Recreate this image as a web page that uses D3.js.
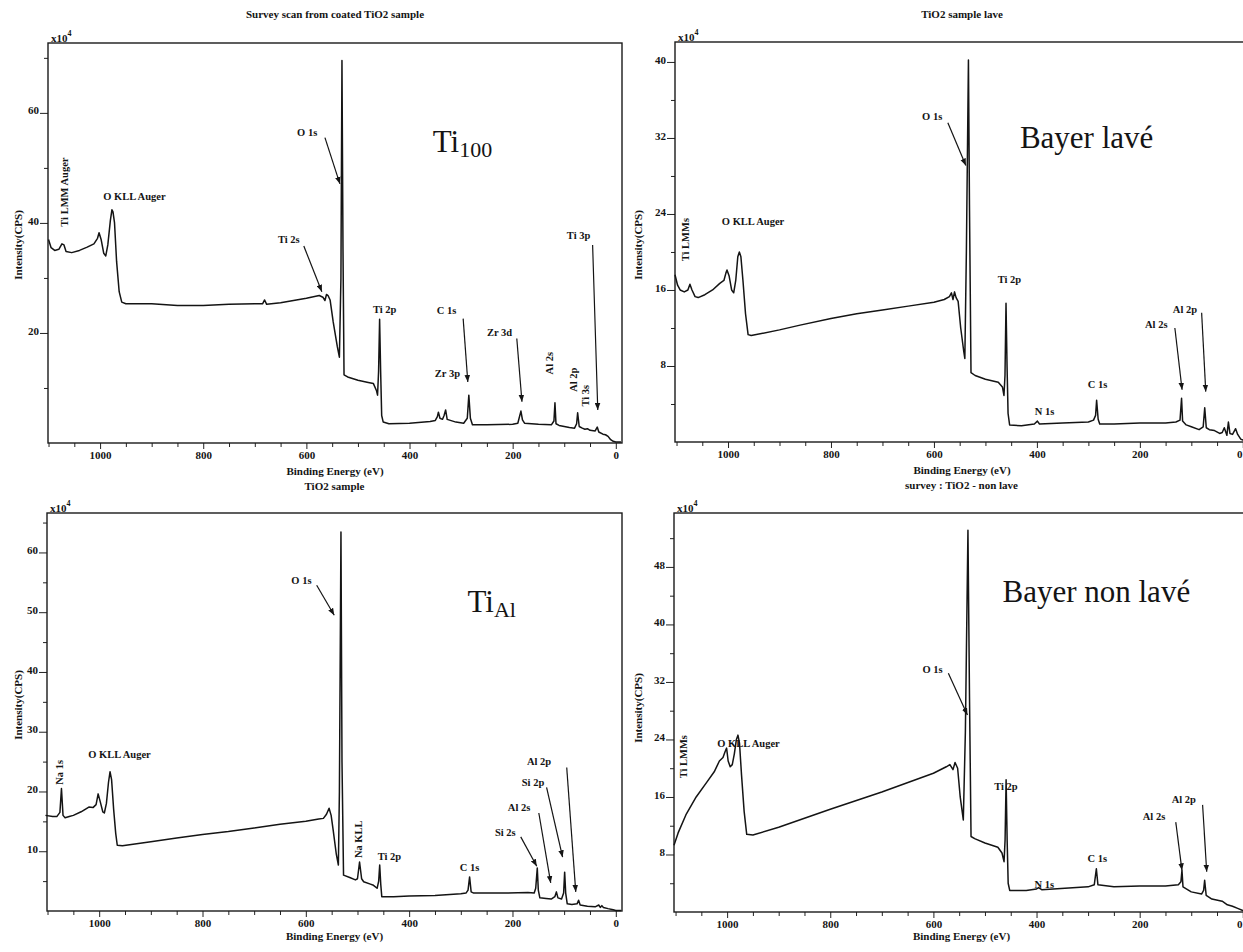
<!DOCTYPE html>
<html>
<head>
<meta charset="utf-8">
<script src="https://cdn.jsdelivr.net/npm/d3@7"></script>
<style>
  body { margin: 0; background: #fff; }
  svg text { font-family: "Liberation Serif", "Times New Roman", serif; fill: #141414; }
</style>
</head>
<body>
<svg id="chart" width="1243" height="952"></svg>
<script>
// XPS survey spectra: [binding energy (eV), intensity (x10^4 CPS)]
const ti100Spectrum = [
  [1100,37.0],[1095,35.5],[1088,35.0],[1080,35.2],[1074,36.2],[1070,36.0],[1066,34.8],[1055,34.6],
  [1040,35.0],[1025,35.6],[1012,36.2],[1005,37.2],[1002,38.2],[998,37.0],[993,34.5],[989,34.0],
  [985,36.0],[980,40.5],[977,42.4],[975,42.0],[972,40.0],[968,33.0],[963,27.5],[958,25.6],[950,25.3],
  [900,25.3],[850,25.0],[800,25.0],[750,25.2],[700,25.3],[685,25.3],[681,26.0],[677,25.2],[650,25.5],
  [600,26.3],[575,26.8],[568,26.5],[564,25.9],[561,27.0],[558,26.8],[554,26.0],[548,22.0],[540,17.5],
  [536,15.6],[533,30.0],[531,69.5],[529,35.0],[527,12.4],[520,12.0],[500,11.4],[480,11.0],[470,10.8],
  [464,9.5],[462,8.7],[460,13.0],[458,22.5],[456,13.0],[454,5.0],[451,3.8],[440,3.5],[400,3.6],
  [360,3.9],[350,4.1],[346,4.8],[344,5.6],[341,4.5],[336,4.3],[333,5.0],[330,6.0],[327,4.3],[310,3.8],
  [295,3.6],[288,4.5],[285,8.7],[282,4.5],[278,3.3],[250,3.3],[200,3.4],[190,3.6],[184,5.8],[181,4.2],
  [177,3.6],[150,3.4],[125,3.3],[120,4.0],[118,7.3],[116,3.5],[110,3.2],[90,2.8],[80,2.7],[76,3.5],
  [74,5.5],[71,3.0],[65,2.7],[60,2.5],[55,2.6],[50,2.3],[40,2.2],[36,2.9],[33,2.0],[25,1.6],[20,1.5],
  [15,1.2],[10,0.6],[5,0.3],[0,0.2],[-10,0.2]
];

const bayerLaveSpectrum = [
  [1103,17.6],[1098,16.5],[1093,16.0],[1085,15.8],[1078,16.0],[1074,16.6],[1070,16.0],[1064,15.3],
  [1058,15.2],[1045,15.5],[1030,16.0],[1016,16.7],[1008,17.0],[1004,17.8],[1002,18.1],[998,17.5],
  [993,16.0],[989,15.7],[985,17.0],[981,19.5],[978,20.0],[975,19.5],[971,17.0],[966,13.5],[961,11.3],
  [955,11.2],[900,11.8],[860,12.3],[800,13.0],[750,13.5],[700,13.9],[650,14.3],[600,14.7],[580,15.0],
  [570,15.3],[566,15.7],[563,15.0],[560,15.8],[557,15.2],[553,14.8],[548,12.0],[542,9.5],[540,8.8],
  [537,20.0],[533,40.2],[531,25.0],[528,7.3],[520,7.0],[500,6.6],[475,6.3],[467,5.8],[464,4.9],
  [462,7.0],[460,14.6],[458,8.0],[456,3.0],[453,1.8],[430,1.7],[405,1.9],[399,2.2],[395,1.9],[350,2.0],
  [300,2.1],[290,2.3],[286,2.8],[284,4.4],[281,2.4],[278,1.9],[250,1.9],[200,2.0],[150,2.0],[130,2.1],
  [122,2.3],[119,4.6],[117,2.2],[110,1.8],[100,1.6],[85,1.3],[77,1.6],[74,3.6],[71,1.5],[65,1.3],
  [55,1.2],[45,0.9],[40,1.0],[36,1.5],[31,0.7],[28,2.1],[25,0.9],[20,0.8],[14,1.4],[10,0.8],[4,0.3],
  [0,0.2],[-12,0.2]
];

const tiAlSpectrum = [
  [1104,16.0],[1090,15.8],[1082,15.8],[1076,16.5],[1073,20.5],[1070,16.0],[1066,15.6],[1058,15.8],
  [1050,16.0],[1035,16.6],[1020,17.4],[1012,17.3],[1006,17.8],[1002,19.6],[998,18.3],[993,16.6],
  [990,16.4],[986,18.0],[982,21.5],[979,23.3],[976,22.0],[972,17.0],[968,13.0],[965,11.0],[955,10.9],
  [900,11.6],[850,12.2],[800,12.8],[750,13.3],[700,13.9],[650,14.5],[600,15.0],[575,15.4],[566,15.5],
  [560,16.2],[555,17.2],[551,16.0],[547,13.5],[541,9.5],[537,7.7],[535,20.0],[532,63.4],[530,25.0],
  [527,6.0],[515,5.6],[504,5.2],[500,5.4],[496,8.2],[492,5.4],[488,4.9],[475,4.5],[469,4.3],[462,3.8],
  [459,5.0],[457,7.7],[455,4.5],[453,2.4],[430,2.4],[400,2.5],[350,2.6],[300,2.9],[290,3.0],[286,3.5],
  [283,5.7],[280,3.2],[275,3.0],[220,3.0],[170,3.1],[158,3.0],[155,3.8],[152,7.2],[150,3.5],[147,2.2],
  [135,2.1],[125,2.0],[118,2.4],[115,3.2],[112,2.2],[105,2.0],[101,3.0],[99,6.5],[97,3.0],[94,1.2],
  [85,1.1],[75,1.2],[72,1.8],[69,1.0],[55,0.8],[40,0.7],[33,1.0],[30,0.6],[27,0.9],[24,0.6],[15,0.4],
  [5,0.2],[0,0.1],[-10,0.1]
];

const bayerNonLaveSpectrum = [
  [1103,9.3],[1095,11.0],[1080,13.5],[1060,16.0],[1040,18.0],[1025,19.5],[1015,21.0],[1008,21.5],
  [1004,22.3],[1001,22.8],[998,21.0],[994,20.2],[990,20.5],[986,22.0],[982,24.0],[979,24.6],[976,23.5],
  [972,19.0],[967,14.0],[962,10.8],[950,10.7],[900,11.8],[800,14.3],[700,16.7],[600,19.3],[575,20.2],
  [568,20.5],[562,19.8],[558,20.8],[553,20.0],[548,16.0],[542,12.8],[538,25.0],[533,53.1],[530,30.0],
  [527,10.5],[520,10.2],[500,9.6],[475,9.0],[467,8.2],[463,7.0],[461,10.0],[459,18.4],[457,10.0],
  [455,4.0],[452,3.0],[420,3.0],[400,3.2],[396,3.4],[390,3.1],[300,3.5],[288,3.8],[284,6.0],[281,3.8],
  [250,3.5],[200,3.6],[150,3.6],[125,3.8],[120,4.2],[118,5.8],[116,3.5],[100,2.8],[80,2.5],[76,3.0],
  [74,4.4],[71,2.3],[60,1.8],[40,1.5],[30,1.0],[20,0.8],[10,0.5],[0,0.2],[-12,0.2]
];

// Peak labels: text, anchor energy, anchor intensity, vertical text flag
const ti100Labels = [
  {t:"Ti LMM Auger", e:1070, v:45.6, vert:true},
  {t:"O KLL Auger", e:994, v:44.2},
  {t:"O 1s", e:618, v:55.8},
  {t:"Ti 2s", e:655, v:36.4},
  {t:"Ti 2p", e:471, v:23.6},
  {t:"Zr 3p", e:351, v:12.0},
  {t:"C 1s", e:347, v:23.5},
  {t:"Zr 3d", e:250, v:19.5},
  {t:"Al 2s", e:128, v:14.5, vert:true},
  {t:"Al 2p", e:83, v:11.5, vert:true},
  {t:"Ti 3s", e:60, v:8.6, vert:true},
  {t:"Ti 3p", e:95, v:37.0}
];
const bayerLaveLabels = [
  {t:"Ti LMMs", e:1083, v:21.3, vert:true},
  {t:"O KLL Auger", e:1012, v:22.8},
  {t:"O 1s", e:623, v:33.9},
  {t:"Ti 2p", e:476, v:16.7},
  {t:"N 1s", e:404, v:2.8},
  {t:"C 1s", e:301, v:5.7},
  {t:"Al 2s", e:190, v:12.0},
  {t:"Al 2p", e:136, v:13.6}
];
const tiAlLabels = [
  {t:"Na 1s", e:1078, v:23.2, vert:true},
  {t:"O KLL Auger", e:1021, v:25.6},
  {t:"O 1s", e:628, v:54.8},
  {t:"Na KLL", e:498, v:12.0, vert:true},
  {t:"Ti 2p", e:461, v:8.5},
  {t:"C 1s", e:302, v:6.7},
  {t:"Si 2s", e:234, v:12.5},
  {t:"Al 2s", e:209, v:16.7},
  {t:"Si 2p", e:182, v:21.0},
  {t:"Al 2p", e:172, v:24.4}
];
const bayerNonLaveLabels = [
  {t:"Ti LMMs", e:1085, v:21.6, vert:true},
  {t:"O KLL Auger", e:1019, v:23.0},
  {t:"O 1s", e:621, v:33.2},
  {t:"Ti 2p", e:482, v:17.0},
  {t:"N 1s", e:404, v:3.3},
  {t:"C 1s", e:301, v:7.0},
  {t:"Al 2s", e:194, v:12.8},
  {t:"Al 2p", e:138, v:15.2}
];

// Pointer arrows: [start energy, start intensity, end energy, end intensity]
const ti100Arrows = [
  [564,55.5,535,47.1],[605,35.8,570,27.5],[296,22.6,287,11.1],[192,19.0,182,7.5],[45,36.0,35,6.0]
];
const bayerLaveArrows = [
  [573,33.6,538,29.1],[132,12.0,118,5.5],[80,13.6,72,5.3]
];
const tiAlArrows = [
  [579,54.5,545,49.5],[184,12.4,153,7.5],[149,16.4,126,4.7],[134,20.7,103,9.0],[95,24.0,77.5,3.2]
];
const bayerNonLaveArrows = [
  [571,33.2,534,27.4],[130,12.5,118,5.8],[78,14.9,70,5.6]
];

// Sample names written inside each plot
const sampleNames = [
  {main:"Ti", sub:"100", e:355, v:52.9},
  {main:"Bayer lavé", sub:"", e:433, v:30.9},
  {main:"Ti", sub:"Al", e:287, v:50.0},
  {main:"Bayer non lavé", sub:"", e:466, v:43.1}
];

const panelTitles = ["Survey scan from coated TiO2 sample", "TiO2 sample lave", "TiO2 sample", "survey : TiO2 - non lave"];

const panels = [
  {box:[48,43,622,443], xDom:[1101,-12], yMax:72.7, major:20, minor:10, data:ti100Spectrum, labels:ti100Labels, arrows:ti100Arrows, titleY:18, xTitleY:475, yTitleY:245, yTitleX:18},
  {box:[675,42,1249,442], xDom:[1103,-12], yMax:42.1, major:8, minor:4, data:bayerLaveSpectrum, labels:bayerLaveLabels, arrows:bayerLaveArrows, titleY:18, xTitleY:474, yTitleY:245, yTitleX:638},
  {box:[47,513,622,911], xDom:[1101,-12], yMax:66.6, major:10, minor:5, data:tiAlSpectrum, labels:tiAlLabels, arrows:tiAlArrows, titleY:490, xTitleY:940, yTitleY:705, yTitleX:18},
  {box:[674,513,1249,912], xDom:[1103,-12], yMax:55.5, major:8, minor:4, data:bayerNonLaveSpectrum, labels:bayerNonLaveLabels, arrows:bayerNonLaveArrows, titleY:489, xTitleY:940, yTitleY:708, yTitleX:638}
];

const W = 1243;
const svg = d3.select("#chart");
svg.append("rect").attr("width",W).attr("height",952).attr("fill","#fff");

svg.append("defs").append("marker")
  .attr("id","arrowhead").attr("markerUnits","userSpaceOnUse")
  .attr("viewBox","0 0 10 8").attr("refX",10).attr("refY",4)
  .attr("markerWidth",7).attr("markerHeight",6).attr("orient","auto")
  .append("path").attr("d","M0,0 L10,4 L0,8 Z").attr("fill","#141414");

panels.forEach((p, i) => {
  const [x0, y0, x1, y1] = p.box;
  const x = d3.scaleLinear().domain(p.xDom).range([x0, x1]);
  const y = d3.scaleLinear().domain([0, p.yMax]).range([y1, y0]);
  const g = svg.append("g");

  // x axis: ticks every 50 eV, labelled every 200 eV
  const xa = g.append("g").attr("transform", `translate(0,${y1})`)
    .call(d3.axisBottom(x).tickValues(d3.range(0, 1101, 50)).tickSize(4)
      .tickFormat(d => d % 200 === 0 ? d : ""));
  xa.select(".domain").remove();
  xa.selectAll(".tick line").attr("stroke","#222").attr("stroke-width",1)
    .attr("y2", d => d % 200 === 0 ? 6 : 4);
  xa.selectAll(".tick text").attr("y", 8).attr("dy","0.71em")
    .style("font-family","'Liberation Serif', serif").style("font-size","11px").style("font-weight","bold")
    // a label sitting on the page edge is kept inside it
    .attr("text-anchor", d => x(d) > W - 4 ? "end" : "middle")
    .attr("x", d => x(d) > W - 4 ? (W - 1) - x(d) : 0);

  // y axis: minor and major ticks, labels on the major ones
  const ya = g.append("g").attr("transform", `translate(${x0},0)`)
    .call(d3.axisLeft(y).tickValues(d3.range(p.minor, p.yMax, p.minor)).tickSize(4)
      .tickFormat(d => d % p.major === 0 ? d : ""));
  ya.select(".domain").remove();
  ya.selectAll(".tick line").attr("stroke","#222").attr("stroke-width",1)
    .attr("x2", d => d % p.major === 0 ? -8 : -4);
  ya.selectAll(".tick text").attr("x", -9).attr("dy","0.1em")
    .style("font-family","'Liberation Serif', serif").style("font-size","11px").style("font-weight","bold");

  // plot frame
  g.append("rect").attr("x", x0).attr("y", y0).attr("width", x1 - x0).attr("height", y1 - y0)
    .attr("fill","none").attr("stroke","#1a1a1a").attr("stroke-width",1.4);

  // scale multiplier
  const mult = g.append("text").attr("x", x0 + 3).attr("y", y0 - 1)
    .style("font-size","11px").style("font-weight","bold").text("x10");
  mult.append("tspan").attr("dy", -6).style("font-size","8px").text("4");

  // titles
  const cx = (x0 + x1) / 2;
  g.append("text").attr("x", cx).attr("y", p.titleY).attr("text-anchor","middle")
    .style("font-size","11px").style("font-weight","bold").text(panelTitles[i]);
  g.append("text").attr("x", cx).attr("y", p.xTitleY).attr("text-anchor","middle")
    .style("font-size","11px").style("font-weight","bold").text("Binding Energy (eV)");
  g.append("text").attr("transform", `translate(${p.yTitleX},${p.yTitleY}) rotate(-90)`)
    .attr("text-anchor","middle").attr("dy","0.35em")
    .style("font-size","11px").style("font-weight","bold").text("Intensity(CPS)");

  // spectrum
  const line = d3.line().x(d => x(d[0])).y(d => y(d[1]));
  g.append("path").datum(p.data).attr("d", line)
    .attr("fill","none").attr("stroke","#141414").attr("stroke-width",1.5)
    .attr("stroke-linejoin","round");

  // peak labels
  p.labels.forEach(l => {
    if (l.vert) {
      g.append("text").attr("transform", `translate(${x(l.e)},${y(l.v)}) rotate(-90)`)
        .attr("text-anchor","middle").attr("dy","0.35em")
        .style("font-size","10.5px").style("font-weight","bold").text(l.t);
    } else {
      g.append("text").attr("x", x(l.e)).attr("y", y(l.v))
        .style("font-size","10.5px").style("font-weight","bold").text(l.t);
    }
  });

  // pointer arrows
  p.arrows.forEach(a => {
    g.append("line").attr("x1", x(a[0])).attr("y1", y(a[1])).attr("x2", x(a[2])).attr("y2", y(a[3]))
      .attr("stroke","#141414").attr("stroke-width",1.2).attr("marker-end","url(#arrowhead)");
  });

  // sample name
  const s = sampleNames[i];
  const nm = g.append("text").attr("x", x(s.e)).attr("y", y(s.v))
    .style("font-size","31px").text(s.main);
  if (s.sub) nm.append("tspan").attr("dy", 5).style("font-size","22px").text(s.sub);
});
</script>
</body>
</html>
